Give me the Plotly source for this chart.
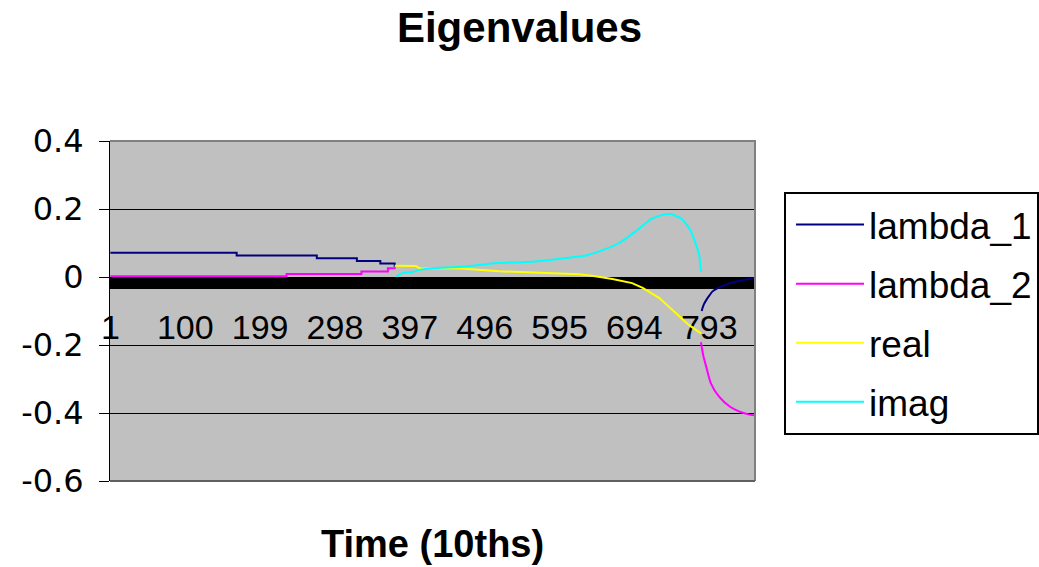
import plotly.graph_objects as go

# ---------------- data ----------------
N_CATEGORIES = 853
tick_vals = [1, 100, 199, 298, 397, 496, 595, 694, 793]
tick_text = ["1", "100", "199", "298", "397", "496", "595", "694", "793"]
y_tick_vals = [-0.6, -0.4, -0.2, 0, 0.2, 0.4]
y_tick_text = ["-0.6", "-0.4", "-0.2", "0", "0.2", "0.4"]

# lambda_1: stepped early segment, then recovering late segment
l1_step_t = [1, 168, 274, 327, 358, 377]
l1_step_v = [0.071, 0.063, 0.055, 0.047, 0.040, 0.030]
l1_late_t = [783, 784, 786, 789, 793, 797, 803, 810, 818, 828, 840, 853]
l1_late_v = [-0.100, -0.092, -0.080, -0.068, -0.055, -0.043, -0.034, -0.027, -0.020,
             -0.014, -0.008, -0.004]

# lambda_2
l2_step_t = [1, 234, 333, 368, 377]
l2_step_v = [0.002, 0.009, 0.016, 0.026, 0.029]
l2_late_t = [782, 785, 789, 795, 806, 820, 833, 845, 853]
l2_late_v = [-0.192, -0.230, -0.264, -0.312, -0.352, -0.381, -0.396, -0.404, -0.407]

# real part
real_t = [377, 405, 410, 465, 515, 585, 621, 638, 665, 691, 705, 727, 749, 766, 782]
real_v = [0.033, 0.032, 0.026, 0.025, 0.017, 0.011, 0.008, 0.004, -0.006, -0.018,
          -0.032, -0.062, -0.106, -0.141, -0.166]

# imaginary part
imag_t = [379, 388, 401, 410, 427, 467, 512, 559, 604, 631, 652, 674, 696, 716, 730,
          742, 756, 766, 774, 780, 782]
imag_v = [0.001, 0.012, 0.015, 0.021, 0.026, 0.030, 0.041, 0.045, 0.056, 0.064, 0.079,
          0.100, 0.135, 0.170, 0.182, 0.185, 0.172, 0.145, 0.105, 0.060, 0.016]

series_colors = {"lambda_1": "#000080", "lambda_2": "#FF00FF", "real": "#FFFF00", "imag": "#00FFFF"}

FONT = "Liberation Sans, Arial, sans-serif"
WIDE_FONT = "DejaVu Sans, sans-serif"

fig = go.Figure()
LW = 2

fig.add_trace(go.Scatter(x=l1_step_t, y=l1_step_v, mode="lines", name="lambda_1",
                         legendgroup="l1", line=dict(color=series_colors["lambda_1"], width=LW, shape="hv")))
fig.add_trace(go.Scatter(x=l1_late_t, y=l1_late_v, mode="lines", name="lambda_1", showlegend=False,
                         legendgroup="l1", line=dict(color=series_colors["lambda_1"], width=LW, shape="spline", smoothing=0.6)))
fig.add_trace(go.Scatter(x=l2_step_t, y=l2_step_v, mode="lines", name="lambda_2",
                         legendgroup="l2", line=dict(color=series_colors["lambda_2"], width=LW, shape="hv")))
fig.add_trace(go.Scatter(x=l2_late_t, y=l2_late_v, mode="lines", name="lambda_2", showlegend=False,
                         legendgroup="l2", line=dict(color=series_colors["lambda_2"], width=LW, shape="spline", smoothing=0.6)))
fig.add_trace(go.Scatter(x=real_t, y=real_v, mode="lines", name="real",
                         legendgroup="re", line=dict(color=series_colors["real"], width=LW)))
fig.add_trace(go.Scatter(x=imag_t, y=imag_v, mode="lines", name="imag",
                         legendgroup="im", line=dict(color=series_colors["imag"], width=LW, shape="spline", smoothing=0.5)))

fig.update_layout(
    width=1039, height=567,
    margin=dict(l=110, r=284, t=141, b=86, autoexpand=False),
    paper_bgcolor="white",
    plot_bgcolor="#C0C0C0",
    font=dict(family=FONT, color="black"),
    title=dict(text="Eigenvalues", x=0.5, xref="container", xanchor="center",
               y=0.952, yref="container", yanchor="middle",
               font=dict(family=FONT, size=42, weight="bold", color="black")),
    xaxis=dict(
        range=[0.5, N_CATEGORIES + 0.5],
        anchor="free", position=0.6,
        showline=True, linecolor="black", linewidth=1,
        showgrid=False, zeroline=False,
        tickmode="array", tickvals=tick_vals, ticktext=tick_text,
        ticks="outside", ticklen=11, tickwidth=1, tickcolor="black",
        ticklabelstandoff=9,
        tickfont=dict(family=FONT, size=34, color="black"),
        minor=dict(tickmode="linear", tick0=0.5, dtick=1, ticks="outside", ticklen=11,
                   tickwidth=1, tickcolor="black", showgrid=False),
        layer="below traces",
    ),
    yaxis=dict(
        range=[-0.6, 0.4],
        showline=True, linecolor="black", linewidth=1,
        showgrid=True, gridcolor="black", gridwidth=1, zeroline=False,
        tickmode="array", tickvals=y_tick_vals, ticktext=y_tick_text,
        ticks="outside", ticklen=10, tickwidth=1, tickcolor="black",
        ticklabelstandoff=9,
        tickfont=dict(family=WIDE_FONT, size=32, color="black"),
        layer="below traces",
    ),
    legend=dict(
        x=1.045, xref="paper", xanchor="left",
        y=0.85, yref="paper", yanchor="top",
        bgcolor="white", bordercolor="black", borderwidth=2,
        font=dict(family=FONT, size=37, color="black"),
        itemwidth=68, indentation=5, tracegroupgap=8,
        traceorder="grouped",
    ),
    showlegend=True,
)

# plot-area border (gray frame on top, right and bottom)
fig.add_shape(type="path", xref="paper", yref="paper", path="M0,1 L1,1 L1,0",
              line=dict(color="#808080", width=2), layer="above")
fig.add_shape(type="line", xref="paper", yref="paper", x0=0, x1=1, y0=0, y1=0,
              line=dict(color="#606060", width=2), layer="above")

# x-axis title
fig.add_annotation(text="Time (10ths)", xref="paper", yref="paper", x=0.5, y=-0.185,
                   xanchor="center", yanchor="middle", showarrow=False,
                   font=dict(family=FONT, size=38, weight="bold", color="black"))

fig.write_html("out.html")
